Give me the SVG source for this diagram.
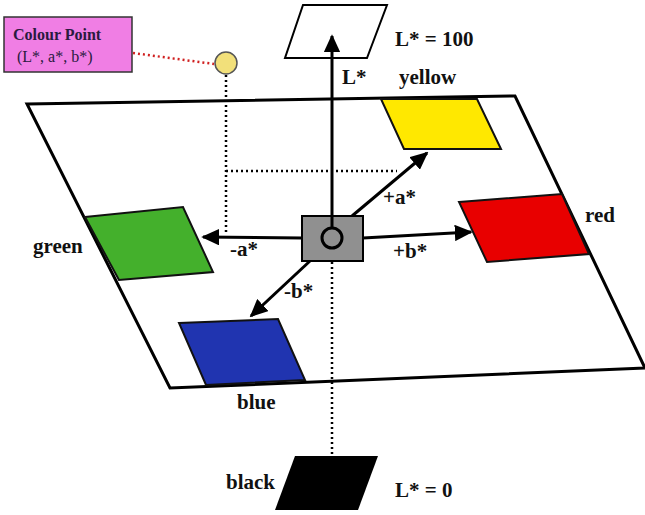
<svg xmlns="http://www.w3.org/2000/svg" width="645" height="515" viewBox="0 0 645 515">
<style>
.lbl{font-family:'Liberation Serif','DejaVu Serif',serif;font-weight:bold;font-size:21px;fill:#111}
.cp{font-family:'Liberation Serif','DejaVu Serif',serif;font-size:16px;fill:#2a1a40}
.patch{stroke:#111;stroke-width:2;stroke-linejoin:miter}
.ax{stroke:#000;stroke-width:3;fill:none}
.dot{stroke:#000;stroke-width:2.5;stroke-dasharray:2 3;fill:none}
</style>
<defs>
<marker id="ah" viewBox="0 0 10 10" refX="9" refY="5" markerWidth="6" markerHeight="5.5" markerUnits="strokeWidth" orient="auto" preserveAspectRatio="none">
<path d="M0,0 L10,5 L0,10 z" fill="#000"/>
</marker>
</defs>
<rect width="645" height="515" fill="#fff"/>
<g id="plane">
<polygon points="27,104 515,96 645,368 170,388" fill="#fff" stroke="#000" stroke-width="3"/>
</g>
<g id="top-plane">
<polygon points="303,5 387,5 367,58 285,58" fill="#fff" stroke="#000" stroke-width="2"/>
<text class="lbl" x="395" y="46">L* = 100</text>
</g>
<g id="yellow">
<polygon class="patch" points="381,99 477,99 501,149 404,149" fill="#ffe800"/>
<text class="lbl" x="399" y="84">yellow</text>
</g>
<g id="red">
<polygon class="patch" points="459,202 562,194 589,254 487,262" fill="#e80000"/>
<text class="lbl" x="585" y="222">red</text>
</g>
<g id="green">
<polygon class="patch" points="85,217 183,207 213,272 119,280" fill="#44b02c"/>
<text class="lbl" x="33" y="253">green</text>
</g>
<g id="blue">
<polygon class="patch" points="179,323 278,319 305,380 206,385" fill="#2034b0"/>
<text class="lbl" x="237" y="409">blue</text>
</g>
<g id="black">
<polygon points="295,456 378,456 358,510 275,510" fill="#000"/>
<text class="lbl" x="226" y="489">black</text>
<text class="lbl" x="395" y="497">L* = 0</text>
</g>
<g id="connectors">
<line class="dot" x1="226" y1="75" x2="226" y2="235"/>
<line class="dot" x1="226" y1="171" x2="397" y2="171"/>
<line class="dot" x1="332" y1="262" x2="332" y2="455"/>
<line x1="133" y1="53" x2="214" y2="64" stroke="#d02020" stroke-width="2.5" stroke-dasharray="2 3"/>
<line class="ax" x1="332" y1="228" x2="332" y2="36" marker-end="url(#ah)"/>
<line class="ax" x1="352" y1="216" x2="427" y2="153" marker-end="url(#ah)"/>
<line class="ax" x1="363" y1="238" x2="471" y2="232" marker-end="url(#ah)"/>
<line class="ax" x1="302" y1="238" x2="203" y2="237" marker-end="url(#ah)"/>
<line class="ax" x1="310" y1="261" x2="251" y2="316" marker-end="url(#ah)"/>
</g>
<g id="centre">
<rect x="302" y="216" width="61" height="45" fill="#909090" stroke="#000" stroke-width="2"/>
<circle cx="332" cy="238" r="10" fill="none" stroke="#000" stroke-width="3"/>
<line x1="332" y1="216" x2="332" y2="228" stroke="#000" stroke-width="3"/>
</g>
<g id="axis-labels">
<text class="lbl" x="342" y="84">L*</text>
<text class="lbl" x="383" y="204">+a*</text>
<text class="lbl" x="393" y="258">+b*</text>
<text class="lbl" x="230" y="256">-a*</text>
<text class="lbl" x="284" y="298">-b*</text>
</g>
<g id="colour-point">
<rect x="4" y="17" width="128" height="55" fill="#f07ee4" stroke="#333" stroke-width="1.5"/>
<text class="cp" x="13" y="40" font-weight="bold">Colour Point</text>
<text class="cp" x="17" y="62">(L*, a*, b*)</text>
<circle cx="226" cy="63" r="11" fill="#f2e07a" stroke="#555" stroke-width="1.5"/>
</g>
</svg>
